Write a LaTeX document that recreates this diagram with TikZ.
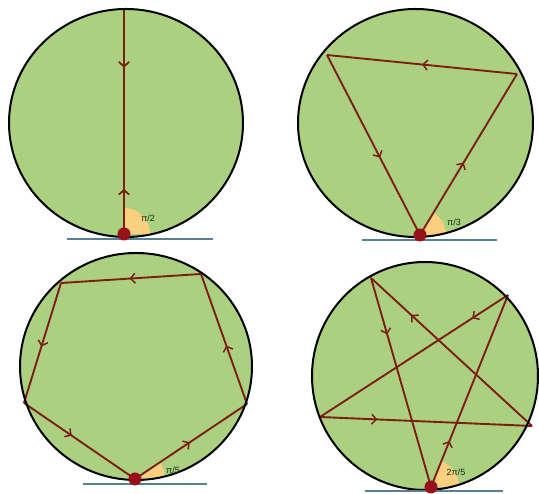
\documentclass[tikz,border=0pt]{standalone}
\usepackage{fontspec}
\setmainfont{Liberation Sans}
\usetikzlibrary{arrows.meta,decorations.markings}
\definecolor{disc}{RGB}{170,208,128}
\definecolor{ray}{RGB}{125,30,20}
\definecolor{ball}{RGB}{150,18,24}
\definecolor{table}{RGB}{88,128,148}
\definecolor{wedgecol}{RGB}{250,208,128}
\definecolor{lbl}{RGB}{25,45,20}
\tikzset{
  disk/.style={fill=disc},
  rim/.style={draw=black,line width=2pt},
  chord/.style={draw=ray,line width=1.9pt},
  mid/.style={postaction={decorate},decoration={markings,mark=at position #1 with {\arrow[ray,line width=1.5pt]{Straight Barb[length=4.5pt,width=10pt]}}}},
  midrev/.style={postaction={decorate},decoration={markings,mark=at position #1 with {\arrowreversed[ray,line width=1.5pt]{Straight Barb[length=4.5pt,width=10pt]}}}},
  tline/.style={draw=table,line width=1.8pt},
  balldot/.style={circle,fill=ball,inner sep=0pt,minimum size=13pt},
  anglbl/.style={font=\fontsize{9}{10}\selectfont,text=lbl,inner sep=0pt}
}
\begin{document}
\begin{tikzpicture}[x=1pt,y=1pt]
\useasboundingbox (0,0) rectangle (539,494);
% ---------- panel 1 ----------
\coordinate (c1) at (126,371);
\coordinate (d1) at (124,260);
\coordinate (t1) at (124,485);
\fill[disk] (c1) ellipse [x radius=117, y radius=114];
\begin{scope}
  \clip (c1) ellipse [x radius=117, y radius=114];
  \fill[wedgecol] (d1) -- ++(26,0) arc[start angle=0,end angle=90,radius=26] -- cycle;
\end{scope}
\draw[chord,line width=1.4pt,mid=0.26,midrev=0.8] (t1) -- (d1);
\draw[rim] (c1) ellipse [x radius=117, y radius=114];
\coordinate (l1a) at (67,255); \coordinate (l1b) at (213,255);
\draw[tline] (l1a) -- (l1b);
\node[balldot] (b1) at (d1) {};
\node[anglbl] (a1) at (148,276) {π/2};
% ---------- panel 2 ----------
\coordinate (c2) at (415.5,371);
\coordinate (d2) at (420,259);
\coordinate (p2a) at (517,420);
\coordinate (p2b) at (327,439);
\fill[disk] (c2) ellipse [x radius=117.5, y radius=114];
\begin{scope}
  \clip (c2) ellipse [x radius=117.5, y radius=114];
  \fill[wedgecol] (d2) -- ++(26,0) arc[start angle=0,end angle=59,radius=26] -- cycle;
\end{scope}
\draw[chord,mid=0.5] (p2a) -- (p2b);
\draw[chord,mid=0.57] (p2b) -- (d2);
\draw[chord,mid=0.45] (d2) -- (p2a);
\draw[rim] (c2) ellipse [x radius=117.5, y radius=114];
\coordinate (l2a) at (362,254); \coordinate (l2b) at (497,254);
\draw[tline] (l2a) -- (l2b);
\node[balldot] (b2) at (d2) {};
\node[anglbl] (a2) at (454,272) {π/3};
% ---------- panel 3 ----------
\coordinate (c3) at (136,127.5);
\coordinate (d3) at (135,15);
\coordinate (p3a) at (247,90);
\coordinate (p3b) at (201,220);
\coordinate (p3c) at (61,211);
\coordinate (p3d) at (24,91);
\fill[disk] (c3) ellipse [x radius=116, y radius=113.5];
\begin{scope}
  \clip (c3) ellipse [x radius=116, y radius=113.5];
  \fill[wedgecol] (d3) -- ++(30,0) arc[start angle=0,end angle=34,radius=30] -- cycle;
\end{scope}
\draw[chord,mid=0.49] (d3) -- (p3a);
\draw[chord,mid=0.45] (p3a) -- (p3b);
\draw[chord,mid=0.51] (p3b) -- (p3c);
\draw[chord,mid=0.53] (p3c) -- (p3d);
\draw[chord,mid=0.43] (p3d) -- (d3);
\draw[rim] (c3) ellipse [x radius=116, y radius=113.5];
\coordinate (l3a) at (83,10); \coordinate (l3b) at (207,10);
\draw[tline] (l3a) -- (l3b);
\node[balldot] (b3) at (d3) {};
\node[anglbl] (a3) at (173,24) {π/5};
% ---------- panel 4 ----------
\coordinate (c4) at (425,118);
\coordinate (d4) at (431,7);
\coordinate (p4a) at (508,199);
\coordinate (p4b) at (320,77);
\coordinate (p4c) at (532,68);
\coordinate (p4d) at (371,216);
\fill[disk] (c4) ellipse [x radius=113, y radius=114];
\begin{scope}
  \clip (c4) ellipse [x radius=113, y radius=114];
  \fill[wedgecol] (d4) -- ++(28,0) arc[start angle=0,end angle=68,radius=28] -- cycle;
\end{scope}
\draw[chord,mid=0.24] (d4) -- (p4a);
\draw[chord,mid=0.19] (p4a) -- (p4b);
\draw[chord,mid=0.27] (p4b) -- (p4c);
\draw[chord,mid=0.75] (p4c) -- (p4d);
\draw[chord,mid=0.27] (p4d) -- (d4);
\draw[rim] (c4) ellipse [x radius=113, y radius=114];
\coordinate (l4a) at (365,3); \coordinate (l4b) at (503,3);
\draw[tline] (l4a) -- (l4b);
\node[balldot] (b4) at (d4) {};
\node[anglbl] (a4) at (456,22) {2π/5};
\end{tikzpicture}
\end{document}
